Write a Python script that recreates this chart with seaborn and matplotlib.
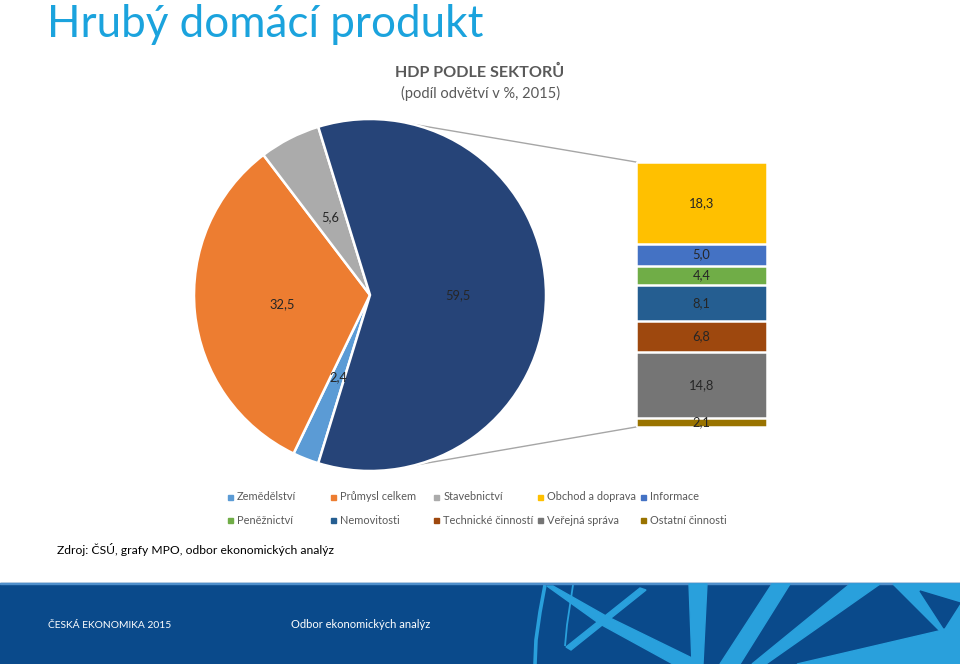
import numpy as np
import pandas as pd
import matplotlib
matplotlib.use("Agg")
import matplotlib.pyplot as plt
from matplotlib.patches import ConnectionPatch, Polygon, Rectangle
from matplotlib.lines import Line2D
import seaborn as sns

# ---------------- data ----------------
pie_labels = ["Zemědělství", "Průmysl celkem", "Stavebnictví", "Služby"]
pie_values = [2.4, 32.5, 5.6, 59.5]
pie_colors = ["#5B9BD5", "#ED7D31", "#ABABAB", "#264478"]

bar_labels = ["Obchod a doprava", "Informace", "Peněžnictví", "Nemovitosti",
              "Technické činností", "Veřejná správa", "Ostatní činnosti"]
bar_values = [18.3, 5.0, 4.4, 8.1, 6.8, 14.8, 2.1]
bar_colors = ["#FFC000", "#4472C4", "#70AD47", "#255E91",
              "#9E480E", "#757575", "#997300"]

legend_row1 = ["Zemědělství", "Průmysl celkem", "Stavebnictví", "Obchod a doprava", "Informace"]
legend_row2 = ["Peněžnictví", "Nemovitosti", "Technické činností", "Veřejná správa", "Ostatní činnosti"]
color_map = dict(zip(pie_labels + bar_labels, pie_colors + bar_colors))

title = "Hrubý domácí produkt"
chart_title = "HDP PODLE SEKTORŮ"
chart_subtitle = "(podíl odvětví v %, 2015)"
source = "Zdroj: ČSÚ, grafy MPO, odbor ekonomických analýz"
footer_left = "ČESKÁ EKONOMIKA 2015"
footer_mid = "Odbor ekonomických analýz"

# ---------------- style ----------------
sns.set_theme(style="white")
plt.rcParams["font.family"] = ["Lato", "DejaVu Sans"]

W, H = 960, 664
fig = plt.figure(figsize=(W / 100, H / 100), dpi=100)
fig.patch.set_facecolor("white")

def fx(px):
    return px / W

def fy(py):
    return 1 - py / H

# ---------------- pie ----------------
cx, cy, r = 370, 295, 176
ax_pie = fig.add_axes([fx(cx - r), fy(cy + r), 2 * r / W, 2 * r / H])
start = 360 - pie_values[-1] * 1.8
wedges, texts, autotexts = ax_pie.pie(
    pie_values, colors=pie_colors, startangle=start, counterclock=False,
    autopct=lambda p: f"{p:.1f}".replace(".", ","), pctdistance=0.5,
    wedgeprops=dict(edgecolor="white", linewidth=1.8),
    textprops=dict(fontsize=9.3, color="#262626"))
ax_pie.set_xlim(-1, 1)
ax_pie.set_ylim(-1, 1)
ax_pie.set_aspect("auto")
ax_pie.axis("off")

# ---------------- stacked bar (seaborn) ----------------
ax_bar = fig.add_axes([fx(636), fy(427), 131 / W, 265 / H])
order_bottom_up = list(range(len(bar_values)))[::-1]
vals_bu = [bar_values[i] for i in order_bottom_up]
cols_bu = [bar_colors[i] for i in order_bottom_up]
cums = np.cumsum(vals_bu)
# draw cumulative bars, tallest first, so each segment sits on the previous
for k in range(len(cums) - 1, -1, -1):
    df = pd.DataFrame({"pos": [0.0], "val": [cums[k]]})
    sns.barplot(data=df, x="pos", y="val", color=cols_bu[k], saturation=1,
                native_scale=True, width=1.0, edgecolor="white", linewidth=1.8,
                ax=ax_bar)
for k, v in enumerate(vals_bu):
    ax_bar.text(0.5, cums[k] - v / 2, f"{v:.1f}".replace(".", ","),
                transform=ax_bar.get_yaxis_transform(),
                ha="center", va="center", fontsize=9.3, color="#262626")
ax_bar.set_xlim(-0.5, 0.5)
ax_bar.set_ylim(0, cums[-1])
ax_bar.axis("off")

# connector lines
for ang, yb in [(76, 1.0), (-75, 0.0)]:
    a = np.deg2rad(ang)
    con = ConnectionPatch(xyA=(np.cos(a), np.sin(a)), coordsA="data", axesA=ax_pie,
                          xyB=(0.0, yb), coordsB="axes fraction", axesB=ax_bar,
                          color="#A6A6A6", lw=1.0, zorder=0)
    fig.add_artist(con)

# ---------------- texts ----------------
fig.text(fx(47), fy(37), title, fontsize=31.7, color="#1BA3DD", ha="left", va="baseline")
fig.text(fx(480), fy(77), chart_title, fontsize=11.6, color="#595959", ha="center",
         va="baseline", fontweight="bold")
fig.text(fx(481), fy(98), chart_subtitle, fontsize=10.5, color="#595959", ha="center",
         va="baseline")

# legend (Excel-like evenly spaced grid)
for row, (items, ypx) in enumerate([(legend_row1, 497), (legend_row2, 520)]):
    for i, lab in enumerate(items):
        x0 = 228 + 103.2 * i
        fig.patches.append(Rectangle((fx(x0), fy(ypx + 3)), 5 / W, 5 / H,
                                     transform=fig.transFigure, color=color_map[lab]))
        fig.text(fx(x0 + 9), fy(ypx), lab, fontsize=7.9, color="#595959",
                 ha="left", va="center")

fig.text(fx(57), fy(550), source, fontsize=8.7, color="#000000", ha="left", va="center")

# ---------------- footer band ----------------
band_col = "#0A4A8B"
light = "#29A0DC"
fig.patches.append(Rectangle((0, 0), 1, fy(583), transform=fig.transFigure,
                             color=band_col, zorder=0))
fig.patches.append(Rectangle((0, fy(584)), 1, 1.5 / H, transform=fig.transFigure,
                             color="#4F8FCB", zorder=1))
shapes = [
    [(547, 586), (553, 586), (606, 616), (692, 658), (692, 664), (673, 664), (600, 624)],
    [(640, 588), (646, 590), (571, 650), (566, 647)],
    [(689, 584), (707, 584), (703, 664), (692, 664)],
    [(772, 584), (790, 584), (740, 664), (720, 664)],
    [(850, 584), (880, 584), (766, 664), (752, 664)],
    [(893, 584), (960, 584), (960, 630), (941, 632)],
    [(797, 664), (960, 626), (960, 664)],
]
for pts in shapes:
    fig.patches.append(Polygon([(fx(x), fy(y)) for x, y in pts], closed=True,
                               transform=fig.transFigure, color=light, zorder=1))
fig.patches.append(Polygon([(fx(x), fy(y)) for x, y in [(920, 591), (960, 603), (944, 628)]],
                           closed=True, transform=fig.transFigure, color=band_col, zorder=2))
for xs, ys, lw in [([545, 540, 536, 535], [585, 612, 640, 664], 2.6),
                   ([573, 570, 567, 565], [585, 605, 625, 646], 1.3)]:
    fig.add_artist(Line2D([fx(x) for x in xs], [fy(y) for y in ys], lw=lw, color=light,
                          transform=fig.transFigure, zorder=1, solid_capstyle="butt"))
fig.text(fx(48), fy(625), footer_left, fontsize=7.4, color="white", ha="left", va="center",
         zorder=3)
fig.text(fx(291), fy(625), footer_mid, fontsize=8.0, color="white", ha="left", va="center",
         zorder=3)

fig.savefig("out.png", dpi=100, facecolor="white")
